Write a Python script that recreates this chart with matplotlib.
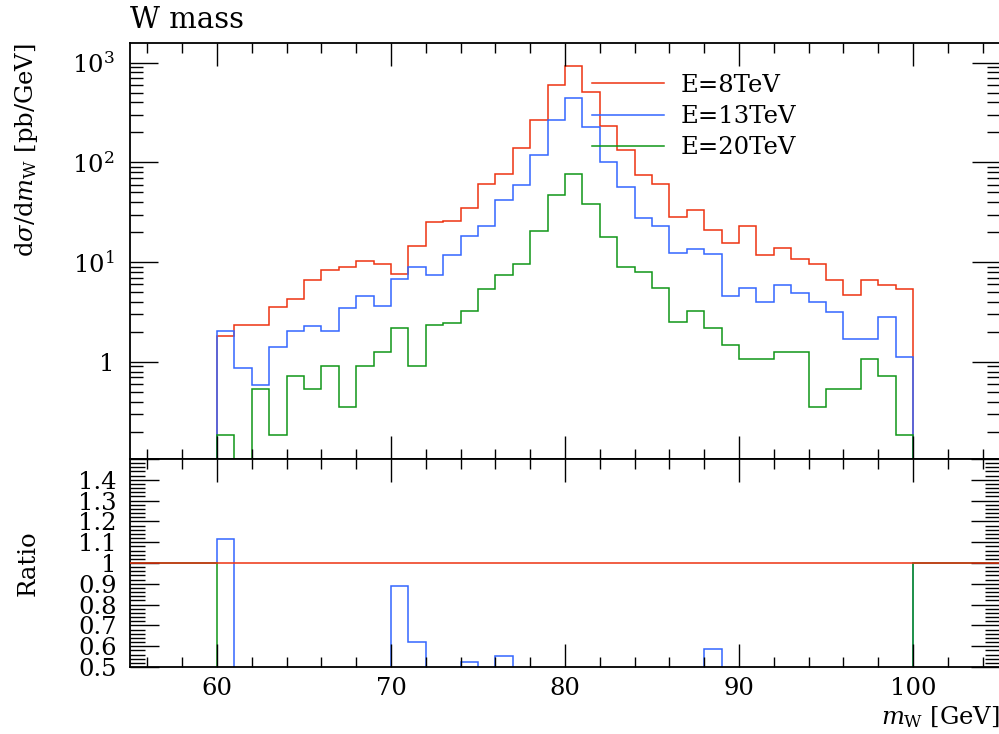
import numpy as np
import matplotlib
matplotlib.use("Agg")
import matplotlib.pyplot as plt
from matplotlib.lines import Line2D
from matplotlib.ticker import MultipleLocator, LogLocator, FuncFormatter, NullFormatter

plt.rcParams["font.family"] = ["DejaVu Serif"]
plt.rcParams["mathtext.fontset"] = "dejavuserif"
plt.rcParams["font.size"] = 17.5

# 1 GeV bins from 60 to 100 GeV
edges = np.arange(60, 101, 1)

# dsigma/dm_W [pb/GeV]
xs_8tev = [1.82, 2.35, 2.35, 3.54, 4.25, 6.65, 8.38, 8.84, 10.3, 9.55,
           7.64, 14.4, 25.0, 25.6, 34.8, 60.7, 75.8, 141, 266, 593,
           933, 504, 230, 132, 75.2, 60.7, 28.1, 33.5, 20.8, 15.5,
           23.2, 11.8, 13.8, 10.7, 9.55, 6.65, 4.70, 6.65, 5.93, 5.36]
xs_13tev = [2.03, 0.863, 0.583, 1.40, 2.03, 2.30, 2.03, 3.43, 4.59, 3.65,
            6.78, 8.91, 7.41, 11.8, 18.3, 23.3, 42.0, 58.8, 118, 266,
            442, 228, 101, 57.0, 27.6, 23.2, 12.5, 13.7, 12.2, 4.59,
            5.48, 3.94, 5.88, 4.89, 3.94, 3.13, 1.69, 1.69, 2.83, 1.13]
xs_20tev = [0.184, 0.0, 0.536, 0.184, 0.718, 0.536, 0.898, 0.356, 0.898, 1.25,
            2.19, 0.90, 2.35, 2.48, 3.27, 5.32, 7.41, 9.55, 20.6, 47.4,
            75.8, 37.9, 17.8, 8.84, 8.0, 5.48, 2.52, 3.27, 2.18, 1.46,
            1.08, 1.08, 1.26, 1.26, 0.356, 0.536, 0.536, 1.08, 0.724, 0.183]

labels = ["E=8TeV", "E=13TeV", "E=20TeV"]
colors = ["#EE3311", "#3366FF", "#109618"]

fig = plt.figure(figsize=(9.99, 7.34), dpi=100)
W, H = 999.0, 734.0
ax = fig.add_axes([130 / W, 1 - 459 / H, 870 / W, 416 / H])
rax = fig.add_axes([130 / W, 1 - 667 / H, 870 / W, 208 / H], sharex=ax)

# main panel -------------------------------------------------------------
ref = np.array(xs_8tev)
series = [np.array(xs_8tev), np.array(xs_13tev), np.array(xs_20tev)]
for vals, col in zip(series, colors):
    v = np.where(vals > 0, vals, 1e-4)
    ax.stairs(v, edges, baseline=1e-4, color=col, lw=1.1)

ax.set_yscale("log")
ax.set_xlim(55, 105)
ax.set_ylim(0.106, 1580)

ax.yaxis.set_major_locator(LogLocator(base=10, numticks=10))
ax.yaxis.set_minor_locator(LogLocator(base=10, subs=np.arange(2, 10), numticks=20))
ax.yaxis.set_major_formatter(FuncFormatter(
    lambda v, p: "1" if abs(v - 1) < 1e-9 else r"$10^{%d}$" % round(np.log10(v))))
ax.yaxis.set_minor_formatter(NullFormatter())

handles = [Line2D([], [], color=c, lw=1.1) for c in colors]
ax.legend(handles, labels, loc="upper left", bbox_to_anchor=(0.531, 0.926),
          frameon=False, borderpad=0, borderaxespad=0, handlelength=2.95,
          handletextpad=0.7, labelspacing=0.34)

ax.set_title("W mass", loc="left", pad=11)
ax.set_ylabel(r"d$\sigma$/d$m_\mathrm{W}$ [pb/GeV]", loc="top")
ax.yaxis.set_label_coords(-0.103, 1.0)

# ratio panel ------------------------------------------------------------
for vals, col in zip(series[1:], colors[1:]):
    ratio = vals / ref
    rvals = np.concatenate([[1.0], ratio, [1.0]])
    redges = np.concatenate([[55], edges, [105]])
    rax.stairs(rvals, redges, baseline=None, color=col, lw=1.1)
rax.axhline(1.0, color=colors[0], lw=1.1, zorder=3)

rax.set_ylim(0.5, 1.5)
rax.yaxis.set_major_locator(MultipleLocator(0.1))
rax.yaxis.set_minor_locator(MultipleLocator(0.02))
rax.yaxis.set_major_formatter(FuncFormatter(
    lambda v, p: "" if v > 1.45 else f"{v:.1f}".rstrip("0").rstrip(".")))
rax.set_ylabel("Ratio")
rax.yaxis.set_label_coords(-0.104, 0.5)

rax.xaxis.set_major_locator(MultipleLocator(10))
rax.xaxis.set_minor_locator(MultipleLocator(2))
rax.set_xlabel(r"$m_\mathrm{W}$ [GeV]", loc="right")
rax.xaxis.set_label_coords(1.0, -0.18)

# frame and ticks ---------------------------------------------------------
for a in (ax, rax):
    for s in a.spines.values():
        s.set_linewidth(1.3)
    a.tick_params(which="both", direction="in", top=True, right=True, width=1.0)
    a.tick_params(axis="x", which="major", length=16.5, pad=7)
    a.tick_params(axis="x", which="minor", length=7.5)
ax.tick_params(axis="y", which="major", length=20, pad=11)
ax.tick_params(axis="y", which="minor", length=9.5)
rax.tick_params(axis="y", which="major", length=21, pad=9.5)
rax.tick_params(axis="y", which="minor", length=11)
ax.tick_params(labelbottom=False)

fig.savefig("out.png", dpi=100)
